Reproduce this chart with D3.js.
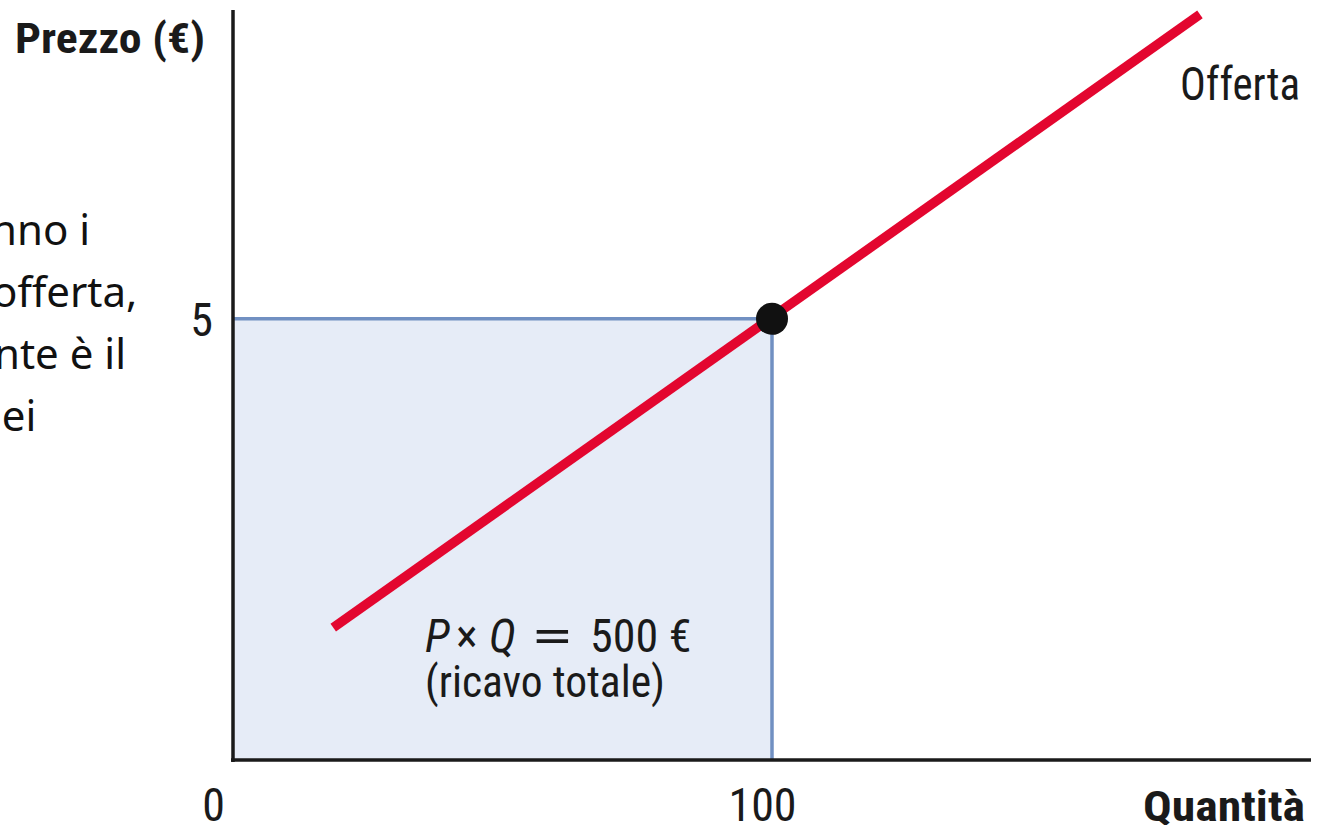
<!DOCTYPE html>
<html>
<head>
<meta charset="utf-8">
<script src="https://cdn.jsdelivr.net/npm/d3@7"></script>
<style>
  html, body { margin: 0; padding: 0; background: #fff; overflow: hidden; }
  svg { display: block; }
  .cond { font-family: "Liberation Sans Narrow", "Roboto Condensed", "Liberation Sans", Arial, sans-serif; fill: #1a1a1a; }
  .slide { font-family: "Noto Sans", "Open Sans", sans-serif; fill: #111; font-size: 42px; }
</style>
</head>
<body>
<script>
// --- data ---
const xTicks = [0, 100];
const yTicks = [5];
const supplyQ = [18.6, 179.4];
const supplyP = [1.5, 8.45];
const pointQ = [100];
const pointP = [5];
const slideLines = ["nno i", "offerta,", "nte è il", "dei"];
const formulaParts = ["P", "×", "Q", "=", "500 €"];

const width = 1322, height = 825;

const svg = d3.select("body").append("svg")
    .attr("width", width)
    .attr("height", height);

const x = d3.scaleLinear().domain([0, 200]).range([233, 1311]);
const y = d3.scaleLinear().domain([0, 8.5]).range([760, 10]);

// clipped text of the slide behind the figure (cut by the page edge)
const slideX = [-9, -8, -6, -24];
svg.append("g").selectAll("text")
    .data(slideLines)
    .join("text")
    .attr("class", "slide")
    .attr("x", (d, i) => slideX[i])
    .attr("y", (d, i) => 245 + i * 62)
    .text(d => d);

// total revenue area
const q0 = pointQ[0], p0 = pointP[0];
svg.append("rect")
    .attr("x", x(0))
    .attr("y", y(p0))
    .attr("width", x(q0) - x(0))
    .attr("height", y(0) - y(p0))
    .attr("fill", "#e6ecf7");

svg.append("path")
    .attr("d", `M${x(0)},${y(p0)}H${x(q0)}V${y(0)}`)
    .attr("fill", "none")
    .attr("stroke", "#7190c2")
    .attr("stroke-width", 3.5);

// axes
const xAxis = d3.axisBottom(x).tickValues(xTicks).tickSize(0).tickSizeOuter(0).tickPadding(30);
const yAxis = d3.axisLeft(y).tickValues(yTicks).tickSize(0).tickSizeOuter(0).tickPadding(20);

const gx = svg.append("g").attr("transform", `translate(0,${y(0)})`).call(xAxis);
const gy = svg.append("g").attr("transform", `translate(${x(0)},0)`).call(yAxis);

[gx, gy].forEach(g => {
    g.select(".domain").attr("stroke", "#1a1a1a").attr("stroke-width", 3.5);
    g.selectAll(".tick text")
        .attr("class", "cond")
        .attr("font-size", 46)
        .attr("fill", "#1a1a1a");
});
gx.select(".domain").attr("d", `M${x(0) - 2},0H${x(200)}`);
gy.select(".domain").attr("d", `M0,${y(8.5)}V${y(0) + 2}`);
gx.selectAll(".tick text")
    .attr("dx", d => d === 0 ? -20 : -10)
    .attr("dy", "0.71em")
    .attr("y", 28);
gy.selectAll(".tick text").attr("dy", "0.36em").attr("x", -20);

// supply curve
const line = d3.line().x(d => x(d[0])).y(d => y(d[1]));
svg.append("path")
    .datum(d3.zip(supplyQ, supplyP))
    .attr("d", line)
    .attr("fill", "none")
    .attr("stroke", "#e3062f")
    .attr("stroke-width", 9.5);

// equilibrium point
svg.append("g").selectAll("circle")
    .data(d3.zip(pointQ, pointP))
    .join("circle")
    .attr("cx", d => x(d[0]))
    .attr("cy", d => y(d[1]))
    .attr("r", 16)
    .attr("fill", "#111");

// labels
function label(txt, px, py, size, anchor, bold, len) {
    return svg.append("text")
        .attr("class", "cond")
        .attr("x", px).attr("y", py)
        .attr("font-size", size)
        .attr("font-weight", bold ? "bold" : "normal")
        .attr("text-anchor", anchor)
        .attr("textLength", len)
        .attr("lengthAdjust", "spacingAndGlyphs")
        .text(txt);
}

label("Prezzo (€)", 205, 53, 42, "end", true, 190);
label("Quantità", 1305, 821, 42, "end", true, 162);
label("Offerta", 1180, 100, 46, "start", false, 120);

// P × Q = 500 € : each piece its own text so italics and spacing follow the original
const formulaX = [425, 456, 489, 530, 590];
svg.append("g").selectAll("text")
    .data(formulaParts)
    .join("text")
    .attr("class", "cond")
    .attr("x", (d, i) => formulaX[i])
    .attr("y", 652)
    .attr("font-size", 46)
    .attr("font-style", d => (d === "P" || d === "Q") ? "italic" : "normal")
    .attr("textLength", d => d === "=" ? 44 : null)
    .attr("lengthAdjust", "spacingAndGlyphs")
    .text(d => d);

label("(ricavo totale)", 425, 697, 44, "start", false, 240);
</script>
</body>
</html>
